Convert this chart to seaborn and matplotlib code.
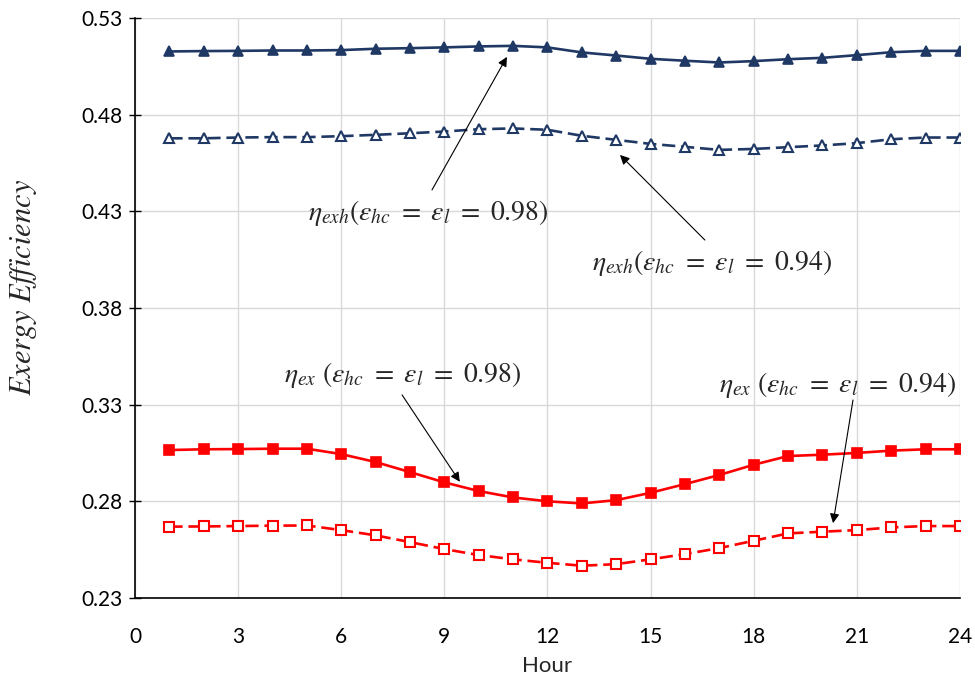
import matplotlib
matplotlib.use("Agg")
import matplotlib.pyplot as plt
import seaborn as sns
import pandas as pd

hours = list(range(1, 25))
eta_exh_098 = [0.5126, 0.5128, 0.5129, 0.5131, 0.5131, 0.5133, 0.5140, 0.5143, 0.5147, 0.5152, 0.5155, 0.5147,
               0.5121, 0.5105, 0.5088, 0.5078, 0.5069, 0.5076, 0.5086, 0.5093, 0.5107, 0.5122, 0.5129, 0.5129]
eta_exh_094 = [0.4677, 0.4677, 0.4681, 0.4683, 0.4683, 0.4688, 0.4695, 0.4703, 0.4712, 0.4724, 0.4728, 0.4721,
               0.4690, 0.4669, 0.4648, 0.4633, 0.4617, 0.4622, 0.4631, 0.4640, 0.4652, 0.4672, 0.4681, 0.4681]
eta_ex_098 = [0.3065, 0.3069, 0.3070, 0.3072, 0.3072, 0.3044, 0.3003, 0.2951, 0.2898, 0.2853, 0.2820, 0.2800,
              0.2789, 0.2806, 0.2844, 0.2889, 0.2936, 0.2989, 0.3034, 0.3041, 0.3050, 0.3062, 0.3069, 0.3069]
eta_ex_094 = [0.2669, 0.2670, 0.2672, 0.2674, 0.2675, 0.2651, 0.2624, 0.2589, 0.2553, 0.2522, 0.2500, 0.2482,
              0.2467, 0.2475, 0.2500, 0.2527, 0.2558, 0.2596, 0.2634, 0.2643, 0.2651, 0.2665, 0.2672, 0.2672]

x_ticks = [0, 3, 6, 9, 12, 15, 18, 21, 24]
y_ticks = [0.23, 0.28, 0.33, 0.38, 0.43, 0.48, 0.53]

sns.set_theme(style="whitegrid")
plt.rcParams["font.family"] = ["Lato", "DejaVu Sans"]
plt.rcParams["mathtext.fontset"] = "stix"

fig = plt.figure(figsize=(9.75, 6.85), dpi=100)
ax = fig.add_axes([0.1385, 0.127, 0.846, 0.847])

NAVY = "#1F3864"
RED = "#FF0000"
df = pd.DataFrame({"Hour": hours, "a": eta_exh_098, "b": eta_exh_094, "c": eta_ex_098, "d": eta_ex_094})

dash = (0, (5, 2.2))
sns.lineplot(data=df, x="Hour", y="a", ax=ax, color=NAVY, linewidth=1.9, marker="^", markersize=7.5,
             markerfacecolor=NAVY, markeredgecolor=NAVY, markeredgewidth=1.2)
sns.lineplot(data=df, x="Hour", y="b", ax=ax, color=NAVY, linewidth=1.9, linestyle=dash, marker="^", markersize=7,
             markerfacecolor="white", markeredgecolor=NAVY, markeredgewidth=1.5)
sns.lineplot(data=df, x="Hour", y="c", ax=ax, color=RED, linewidth=1.9, marker="s", markersize=7,
             markerfacecolor=RED, markeredgecolor=RED, markeredgewidth=1.2)
sns.lineplot(data=df, x="Hour", y="d", ax=ax, color=RED, linewidth=1.9, linestyle=dash, marker="s", markersize=6.5,
             markerfacecolor="white", markeredgecolor=RED, markeredgewidth=1.5)

ax.set_xlim(0, 24)
ax.set_ylim(0.23, 0.53)
ax.set_xticks(x_ticks)
ax.set_yticks(y_ticks)
ax.set_yticklabels([f"{v:.2f}" for v in y_ticks])
ax.grid(True, color="#D9D9D9", linewidth=1.0)
for s in ["top", "right"]:
    ax.spines[s].set_visible(False)
for s in ["left", "bottom"]:
    ax.spines[s].set_color("black")
    ax.spines[s].set_linewidth(1.2)
ax.tick_params(axis="both", labelsize=15, colors="black")
ax.tick_params(axis="y", direction="inout", length=8, width=1, left=True, pad=5)
ax.tick_params(axis="x", bottom=False, pad=15)
ax.set_xlabel("Hour", fontsize=16, labelpad=6)
ax.set_ylabel(r"$Exergy\ Efficiency$", fontsize=22)
ax.yaxis.set_label_coords(-0.117, 0.535)

fs = 20
aprops = dict(arrowstyle="-|>", color="black", lw=0.8, mutation_scale=14, shrinkA=0, shrinkB=0)
ax.annotate("", xy=(10.82, 0.5098), xytext=(8.64, 0.4410), arrowprops=aprops)
ax.text(8.52, 0.4291, r"$\eta_{exh}(\varepsilon_{hc}\ =\ \varepsilon_{l}\ =\ 0.98)$", fontsize=fs, ha="center", va="center")
ax.annotate("", xy=(14.11, 0.4591), xytext=(16.58, 0.4151), arrowprops=aprops)
ax.text(16.79, 0.4033, r"$\eta_{exh}(\varepsilon_{hc}\ =\ \varepsilon_{l}\ =\ 0.94)$", fontsize=fs, ha="center", va="center")
ax.annotate("", xy=(9.45, 0.2901), xytext=(7.77, 0.3350), arrowprops=aprops)
ax.text(7.80, 0.3453, r"$\eta_{ex}\ (\varepsilon_{hc}\ =\ \varepsilon_{l}\ =\ 0.98)$", fontsize=fs, ha="center", va="center")
ax.annotate("", xy=(20.31, 0.2687), xytext=(20.89, 0.3324), arrowprops=aprops)
ax.text(20.45, 0.3401, r"$\eta_{ex}\ (\varepsilon_{hc}\ =\ \varepsilon_{l}\ =\ 0.94)$", fontsize=fs, ha="center", va="center")

fig.savefig("out.png", dpi=100)
